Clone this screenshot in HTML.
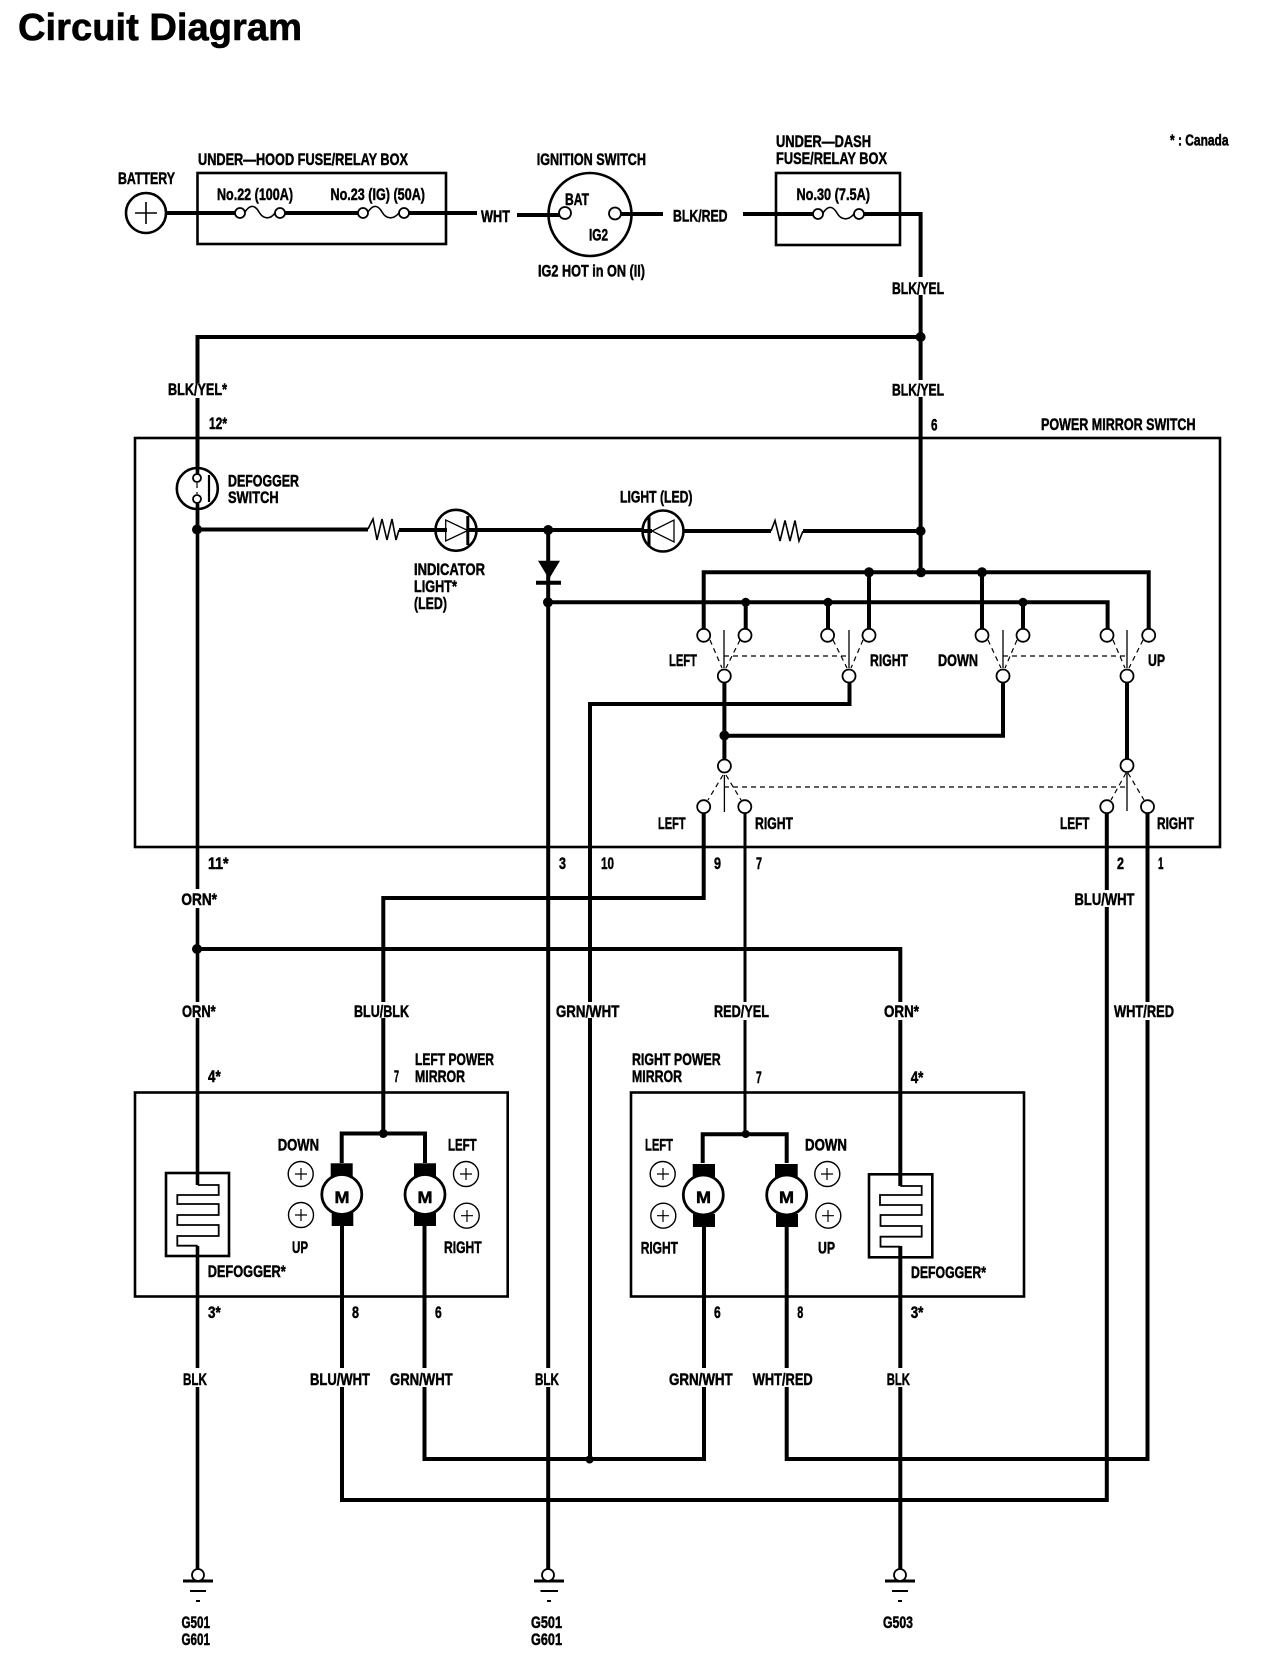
<!DOCTYPE html>
<html><head><meta charset="utf-8"><title>Circuit Diagram</title>
<style>
html,body{margin:0;padding:0;background:#fff}
svg{display:block}
text{font-family:"Liberation Sans",sans-serif;font-weight:bold;font-size:17px;fill:#000;stroke:#000;stroke-width:.5}
.w{fill:none;stroke:#000;stroke-width:4;stroke-linecap:butt;stroke-linejoin:miter}
.b{fill:none;stroke:#000;stroke-width:2.6}
.t{fill:none;stroke:#000;stroke-width:1.6}
.d{fill:none;stroke:#000;stroke-width:1.2;stroke-dasharray:5 4}
.c{fill:#fff;stroke:#000;stroke-width:1.8}
.k{fill:#000;stroke:none}
</style></head><body>
<svg xmlns="http://www.w3.org/2000/svg" width="1264" height="1668" viewBox="0 0 1264 1668">
<rect width="1264" height="1668" fill="#fff"/>
<text x="18" y="40" style="font-size:38px;stroke-width:.6" textLength="284" lengthAdjust="spacingAndGlyphs">Circuit Diagram</text>

<!-- boxes -->
<rect class="b" x="197.5" y="173" width="248.5" height="71"/>
<rect class="b" x="776" y="173" width="124" height="72"/>
<rect class="b" x="135" y="438" width="1085" height="409"/>
<rect class="b" x="135" y="1092.5" width="372.7" height="204"/>
<rect class="b" x="631" y="1092.5" width="393" height="204"/>

<!-- top wires -->
<path class="w" d="M166 213H236M285 213H359M409 213H477M517 215H560M620 214H663M743 214H813M864 214H920.6V277M920.6 295V380M920.6 397V572"/>
<path class="w" d="M920.6 337H197.5V383M197.5 398V468"/>
<!-- battery -->
<circle cx="146" cy="213" r="20" class="b" fill="#fff"/>
<path class="t" d="M135 213H157M146 202V224"/>
<!-- fuses -->
<path class="t" d="M245 212C250 204 255 205 259 212C263 219 270 220 275 213"/>
<path class="t" d="M368 212C373 204 378 205 382 212C386 219 393 220 399 213"/>
<path class="t" d="M823 213C828 205 833 206 837 213C841 220 848 221 854 214"/>
<circle class="c" cx="240" cy="213" r="5"/><circle class="c" cx="280" cy="213" r="5"/>
<circle class="c" cx="363" cy="213" r="5"/><circle class="c" cx="404" cy="213" r="5"/>
<circle class="c" cx="818" cy="214" r="5"/><circle class="c" cx="859" cy="214" r="5"/>
<!-- ignition -->
<circle class="b" cx="590" cy="214.5" r="41.5"/>
<circle class="c" cx="565" cy="213" r="6"/><circle class="c" cx="615" cy="213.5" r="6"/>

<!-- main verticals through switch box -->
<path class="w" style="stroke-width:3.6" d="M197.5 509V889M197.5 908V1002M197.5 1018V1185M197.5 1246V1368M197.5 1387V1570"/>
<path class="w" d="M197 529.5H368M399 530H447M467 530H643M683 531H771M803 531H920.6"/>
<path class="w" d="M548.2 530V1368M548.2 1387V1570"/>
<path class="w" d="M548 602.3H1107.6V630"/>
<path class="w" d="M703.7 630V572.3H1148.7V630"/>
<path class="w" d="M745.7 602V630M828 602V630M869 572V630M982 572V630M1023 602V630"/>
<path class="w" d="M724.4 682V760M1003 682V735.7H724.4M1127 682V760"/>
<path class="w" d="M849.5 682V704H590V1002M590 1018V1459"/>
<path class="w" d="M703.7 813V898H383.3V1002M383.3 1018V1133.5"/>
<path class="w" style="stroke-width:3" d="M745 813V1002M745 1020V1134"/>
<path class="w" d="M1106.8 813V890M1106.8 907V1500H342V1387M342 1368V1226"/>
<path class="w" d="M1147.5 813V1002M1147.5 1020V1459H786.7V1387M786.7 1368V1226"/>
<path class="w" d="M424.5 1226V1368M424.5 1387V1459H704V1387M704 1368V1226"/>
<path class="w" d="M197 949H900.3V1002M900.3 1020V1186M900.3 1246V1368M900.3 1387V1570"/>
<!-- motor tops -->
<path class="w" d="M341.7 1163V1133.5H425V1163M702.7 1163V1134.3H786.7V1163"/>

<!-- defogger switch -->
<circle class="b" cx="197.3" cy="488.5" r="20.5" fill="#fff"/>
<path class="w" style="stroke-width:3.6" d="M197.5 449V474M197.5 503V529"/>
<circle class="c" cx="197" cy="478" r="4"/><circle class="c" cx="197" cy="499" r="4"/>
<path class="t" style="stroke-width:2.2" d="M209 475V502"/>
<path class="d" d="M197 483V494"/>
<!-- resistors -->
<path class="t" d="M368 529L373 519L377 540L382 519L387 540L392 519L396 540L399 530"/>
<path class="t" d="M771 531L775 520.5L780 541L785 520.5L790 541L795 520.5L799 541L803 531"/>
<!-- LEDs -->
<circle class="b" cx="456" cy="530.3" r="20.5"/>
<path class="t" style="stroke-width:1.3" d="M445.7 520V541L467.8 530.5Z" fill="#fff"/>
<path class="w" style="stroke-width:3" d="M467.8 516V545"/>
<circle class="b" cx="663" cy="531" r="20.5"/>
<path class="w" d="M643 531H652"/>
<path class="t" style="stroke-width:1.3" d="M674 520V542L652 531Z" fill="#fff"/>
<path class="w" style="stroke-width:3" d="M649 516V546"/>
<!-- diode -->
<path class="k" d="M538 560.7H560L549 579Z"/>
<path class="w" d="M536 582.7H561"/>

<!-- junctions -->
<g class="k">
<circle cx="920.6" cy="337" r="5"/><circle cx="920.6" cy="531" r="5"/><circle cx="197" cy="529.5" r="5"/>
<circle cx="548.2" cy="530" r="5"/><circle cx="548" cy="602.3" r="5"/>
<circle cx="869" cy="572.3" r="5"/><circle cx="921" cy="572.3" r="5"/><circle cx="982" cy="572.3" r="5"/>
<circle cx="745.7" cy="602.3" r="4.5"/><circle cx="828" cy="602.3" r="4.5"/><circle cx="1023" cy="602.3" r="4.5"/>
<circle cx="724.4" cy="735.5" r="5"/><circle cx="197" cy="949" r="5"/>
<circle cx="383.3" cy="1133.5" r="4.5"/><circle cx="745.7" cy="1134" r="4"/><circle cx="589.6" cy="1459.5" r="4"/>
</g>

<!-- switches -->
<path class="t" style="stroke-width:1.3" d="M724 630V668M849 630V668M1003 630V668M1127 630V668M724.4 775V812M1127 773V811"/>
<path class="d" d="M710 640L722 668M740 640L726 668M833 640L847 668M863 640L851 668M988 640L1001 668M1017 640L1005 668M1113 640L1125 668M1143 640L1129 668"/>
<path class="d" d="M724 656H849M1003 656H1127M724 787H1127"/>
<path class="d" d="M723 775L708 800M726 775L741 800M1126 773L1111 800M1128 773L1144 800"/>
<g class="c">
<circle cx="703.7" cy="635.3" r="6.5"/><circle cx="745" cy="635.3" r="6.5"/><circle cx="827.6" cy="635.3" r="6.5"/><circle cx="869" cy="635.3" r="6.5"/>
<circle cx="982" cy="635.3" r="6.5"/><circle cx="1023" cy="635.3" r="6.5"/><circle cx="1107" cy="635.3" r="6.5"/><circle cx="1148.7" cy="635.3" r="6.5"/>
<circle cx="724.3" cy="676" r="6.5"/><circle cx="849" cy="676" r="6.5"/><circle cx="1003" cy="676" r="6.5"/><circle cx="1127" cy="676" r="6.5"/>
<circle cx="724.4" cy="766" r="6.5"/><circle cx="1127" cy="765.5" r="6.5"/>
<circle cx="703.7" cy="806.7" r="6.5"/><circle cx="744.8" cy="806.7" r="6.5"/><circle cx="1106.8" cy="806.7" r="6.5"/><circle cx="1147.5" cy="806.7" r="6.5"/>
</g>

<!-- defoggers -->
<rect class="b" x="166" y="1173" width="63" height="83"/>
<path class="t" style="stroke-width:1.8" d="M197.7 1185H218.7V1195H177.3V1204H218.7V1215H177.3V1225H218.7V1236H177.3V1245.7H197.7"/>
<rect class="b" x="869" y="1174.3" width="63.3" height="83"/>
<path class="t" style="stroke-width:1.8" d="M900.3 1186H921.7V1195H880V1205H921.7V1215H880.5V1226H921.7V1236.7H880.5V1246.7H900.3"/>

<!-- motors -->
<g class="k">
<rect x="330.7" y="1163.3" width="22" height="14"/><rect x="331.7" y="1213" width="21.6" height="13"/>
<rect x="414" y="1163.3" width="22" height="14"/><rect x="414" y="1213" width="22" height="13"/>
<rect x="692.7" y="1164" width="22.3" height="14"/><rect x="693" y="1214" width="22" height="13"/>
<rect x="775" y="1164" width="22.7" height="14"/><rect x="776" y="1214" width="22" height="13"/>
</g>
<circle cx="341.8" cy="1194.5" r="20" fill="#fff" stroke="#000" stroke-width="2.8"/>
<circle cx="425" cy="1194.5" r="20" fill="#fff" stroke="#000" stroke-width="2.8"/>
<circle cx="703.3" cy="1195" r="20" fill="#fff" stroke="#000" stroke-width="2.8"/>
<circle cx="786.7" cy="1195" r="20" fill="#fff" stroke="#000" stroke-width="2.8"/>
<text x="334.5" y="1203" textLength="15" lengthAdjust="spacingAndGlyphs">M</text>
<text x="417.5" y="1203" textLength="15" lengthAdjust="spacingAndGlyphs">M</text>
<text x="696" y="1203" textLength="15" lengthAdjust="spacingAndGlyphs">M</text>
<text x="779" y="1203" textLength="15" lengthAdjust="spacingAndGlyphs">M</text>
<!-- mini plus circles -->
<g class="c" style="stroke-width:1.4">
<circle cx="300.7" cy="1174" r="12.5"/><circle cx="301" cy="1215" r="12.5"/><circle cx="466" cy="1174" r="12.5"/><circle cx="466.7" cy="1215.7" r="12.5"/>
<circle cx="662.7" cy="1174" r="12.5"/><circle cx="663.3" cy="1215.7" r="12.5"/><circle cx="827.3" cy="1174" r="12.5"/><circle cx="828.3" cy="1215.7" r="12.5"/>
</g>
<path class="t" style="stroke-width:1.2" d="M295 1174H307M301 1168V1180M295 1215H307M301 1209V1221M460 1174H472M466 1168V1180M461 1215.7H473M467 1210V1222M657 1174H669M663 1168V1180M657 1215.7H669M663 1210V1222M821 1174H833M827 1168V1180M822 1215.7H834M828 1210V1222"/>

<!-- grounds -->
<g>
<path class="w" style="stroke-width:3" d="M183 1581H213M534 1581H564M885 1581H915"/>
<path class="t" style="stroke-width:2" d="M190 1591H206M540.5 1591H558M892 1591H908"/>
<path class="t" style="stroke-width:2" d="M196 1601H200M547 1601H551M898 1601H902"/>
<g class="c"><circle cx="198" cy="1575" r="6"/><circle cx="548" cy="1575" r="6"/><circle cx="900" cy="1575" r="6"/></g>
</g>

<!-- labels -->
<g>
<text x="198" y="165" textLength="210" lengthAdjust="spacingAndGlyphs">UNDER—HOOD FUSE/RELAY BOX</text>
<text x="118" y="184" textLength="57" lengthAdjust="spacingAndGlyphs">BATTERY</text>
<text x="217" y="200" textLength="76" lengthAdjust="spacingAndGlyphs">No.22 (100A)</text>
<text x="330.5" y="200" textLength="94.5" lengthAdjust="spacingAndGlyphs">No.23 (IG) (50A)</text>
<text x="481" y="222" textLength="29" lengthAdjust="spacingAndGlyphs">WHT</text>
<text x="536.7" y="165" textLength="109.3" lengthAdjust="spacingAndGlyphs">IGNITION SWITCH</text>
<text x="565" y="205" textLength="24" lengthAdjust="spacingAndGlyphs">BAT</text>
<text x="589" y="240.7" textLength="19" lengthAdjust="spacingAndGlyphs">IG2</text>
<text x="538" y="276.7" textLength="107" lengthAdjust="spacingAndGlyphs">IG2 HOT in ON (II)</text>
<text x="776" y="147" textLength="95" lengthAdjust="spacingAndGlyphs">UNDER—DASH</text>
<text x="776" y="164" textLength="111" lengthAdjust="spacingAndGlyphs">FUSE/RELAY BOX</text>
<text x="796.5" y="200" textLength="73.5" lengthAdjust="spacingAndGlyphs">No.30 (7.5A)</text>
<text x="673" y="221.5" textLength="54.5" lengthAdjust="spacingAndGlyphs">BLK/RED</text>
<text x="1170" y="145.5" style="font-size:16px" textLength="58.5" lengthAdjust="spacingAndGlyphs">* : Canada</text>
<text x="892" y="294" textLength="52" lengthAdjust="spacingAndGlyphs">BLK/YEL</text>
<text x="892" y="395.5" textLength="52" lengthAdjust="spacingAndGlyphs">BLK/YEL</text>
<text x="168" y="395" textLength="59" lengthAdjust="spacingAndGlyphs">BLK/YEL*</text>
<text x="209" y="429" textLength="18" lengthAdjust="spacingAndGlyphs">12*</text>
<text x="931" y="430.7" textLength="6.5" lengthAdjust="spacingAndGlyphs">6</text>
<text x="1041" y="430" textLength="154.5" lengthAdjust="spacingAndGlyphs">POWER MIRROR SWITCH</text>
<text x="228" y="486.7" textLength="71" lengthAdjust="spacingAndGlyphs">DEFOGGER</text>
<text x="228" y="503" textLength="50.6" lengthAdjust="spacingAndGlyphs">SWITCH</text>
<text x="620" y="502.7" textLength="72.5" lengthAdjust="spacingAndGlyphs">LIGHT (LED)</text>
<text x="414" y="575" textLength="71" lengthAdjust="spacingAndGlyphs">INDICATOR</text>
<text x="414" y="592" textLength="43" lengthAdjust="spacingAndGlyphs">LIGHT*</text>
<text x="414" y="609" textLength="33" lengthAdjust="spacingAndGlyphs">(LED)</text>
<text x="669" y="666" textLength="28" lengthAdjust="spacingAndGlyphs">LEFT</text>
<text x="870" y="666" textLength="38" lengthAdjust="spacingAndGlyphs">RIGHT</text>
<text x="938" y="666" textLength="40" lengthAdjust="spacingAndGlyphs">DOWN</text>
<text x="1148" y="666" textLength="17" lengthAdjust="spacingAndGlyphs">UP</text>
<text x="658" y="829" textLength="27.6" lengthAdjust="spacingAndGlyphs">LEFT</text>
<text x="755" y="829" textLength="38" lengthAdjust="spacingAndGlyphs">RIGHT</text>
<text x="1060" y="829" textLength="29.5" lengthAdjust="spacingAndGlyphs">LEFT</text>
<text x="1157" y="829" textLength="37" lengthAdjust="spacingAndGlyphs">RIGHT</text>
<text x="208" y="869" textLength="20.6" lengthAdjust="spacingAndGlyphs">11*</text>
<text x="559" y="869" textLength="7" lengthAdjust="spacingAndGlyphs">3</text>
<text x="601" y="869" textLength="13" lengthAdjust="spacingAndGlyphs">10</text>
<text x="714" y="869" textLength="7" lengthAdjust="spacingAndGlyphs">9</text>
<text x="756" y="869" textLength="6" lengthAdjust="spacingAndGlyphs">7</text>
<text x="1117" y="869" textLength="7" lengthAdjust="spacingAndGlyphs">2</text>
<text x="1158" y="869" textLength="5.5" lengthAdjust="spacingAndGlyphs">1</text>
<text x="181.4" y="905" textLength="35.6" lengthAdjust="spacingAndGlyphs">ORN*</text>
<text x="1074.5" y="905" textLength="60" lengthAdjust="spacingAndGlyphs">BLU/WHT</text>
<text x="182" y="1017" textLength="33.7" lengthAdjust="spacingAndGlyphs">ORN*</text>
<text x="354" y="1017" textLength="55" lengthAdjust="spacingAndGlyphs">BLU/BLK</text>
<text x="556" y="1017" textLength="63.3" lengthAdjust="spacingAndGlyphs">GRN/WHT</text>
<text x="714" y="1017" textLength="55" lengthAdjust="spacingAndGlyphs">RED/YEL</text>
<text x="884" y="1017" textLength="35" lengthAdjust="spacingAndGlyphs">ORN*</text>
<text x="1114" y="1017" textLength="60" lengthAdjust="spacingAndGlyphs">WHT/RED</text>
<text x="415" y="1065" textLength="79" lengthAdjust="spacingAndGlyphs">LEFT POWER</text>
<text x="415" y="1082" textLength="50" lengthAdjust="spacingAndGlyphs">MIRROR</text>
<text x="208" y="1082" textLength="12.7" lengthAdjust="spacingAndGlyphs">4*</text>
<text x="394" y="1082" textLength="5" lengthAdjust="spacingAndGlyphs">7</text>
<text x="632" y="1065" textLength="88.7" lengthAdjust="spacingAndGlyphs">RIGHT POWER</text>
<text x="632" y="1082" textLength="50" lengthAdjust="spacingAndGlyphs">MIRROR</text>
<text x="756" y="1083" textLength="5.7" lengthAdjust="spacingAndGlyphs">7</text>
<text x="910.7" y="1083" textLength="12.7" lengthAdjust="spacingAndGlyphs">4*</text>
<text x="277.7" y="1150.7" textLength="41.3" lengthAdjust="spacingAndGlyphs">DOWN</text>
<text x="448" y="1150.7" textLength="28.7" lengthAdjust="spacingAndGlyphs">LEFT</text>
<text x="645" y="1150.7" textLength="28" lengthAdjust="spacingAndGlyphs">LEFT</text>
<text x="805" y="1150.7" textLength="42" lengthAdjust="spacingAndGlyphs">DOWN</text>
<text x="292" y="1253" textLength="16" lengthAdjust="spacingAndGlyphs">UP</text>
<text x="444" y="1253" textLength="37.7" lengthAdjust="spacingAndGlyphs">RIGHT</text>
<text x="640.7" y="1253.7" textLength="37.3" lengthAdjust="spacingAndGlyphs">RIGHT</text>
<text x="818" y="1253.7" textLength="17" lengthAdjust="spacingAndGlyphs">UP</text>
<text x="207.7" y="1277" textLength="78" lengthAdjust="spacingAndGlyphs">DEFOGGER*</text>
<text x="911" y="1278" textLength="75" lengthAdjust="spacingAndGlyphs">DEFOGGER*</text>
<text x="208" y="1318" textLength="12.7" lengthAdjust="spacingAndGlyphs">3*</text>
<text x="352" y="1318" textLength="7" lengthAdjust="spacingAndGlyphs">8</text>
<text x="435" y="1318" textLength="6.7" lengthAdjust="spacingAndGlyphs">6</text>
<text x="714" y="1318" textLength="6.7" lengthAdjust="spacingAndGlyphs">6</text>
<text x="797.3" y="1318" textLength="6" lengthAdjust="spacingAndGlyphs">8</text>
<text x="910.7" y="1318" textLength="12.7" lengthAdjust="spacingAndGlyphs">3*</text>
<text x="183" y="1385" textLength="24" lengthAdjust="spacingAndGlyphs">BLK</text>
<text x="310" y="1385" textLength="60" lengthAdjust="spacingAndGlyphs">BLU/WHT</text>
<text x="390" y="1385" textLength="62.7" lengthAdjust="spacingAndGlyphs">GRN/WHT</text>
<text x="535" y="1385" textLength="24" lengthAdjust="spacingAndGlyphs">BLK</text>
<text x="669" y="1385" textLength="63.7" lengthAdjust="spacingAndGlyphs">GRN/WHT</text>
<text x="752.7" y="1385" textLength="60" lengthAdjust="spacingAndGlyphs">WHT/RED</text>
<text x="886.7" y="1385" textLength="23.3" lengthAdjust="spacingAndGlyphs">BLK</text>
<text x="181.5" y="1628" textLength="28.5" lengthAdjust="spacingAndGlyphs">G501</text>
<text x="181.5" y="1645" textLength="28.5" lengthAdjust="spacingAndGlyphs">G601</text>
<text x="531" y="1628" textLength="31" lengthAdjust="spacingAndGlyphs">G501</text>
<text x="531" y="1645" textLength="31" lengthAdjust="spacingAndGlyphs">G601</text>
<text x="883" y="1628" textLength="30" lengthAdjust="spacingAndGlyphs">G503</text>
</g>
</svg>
</body></html>
